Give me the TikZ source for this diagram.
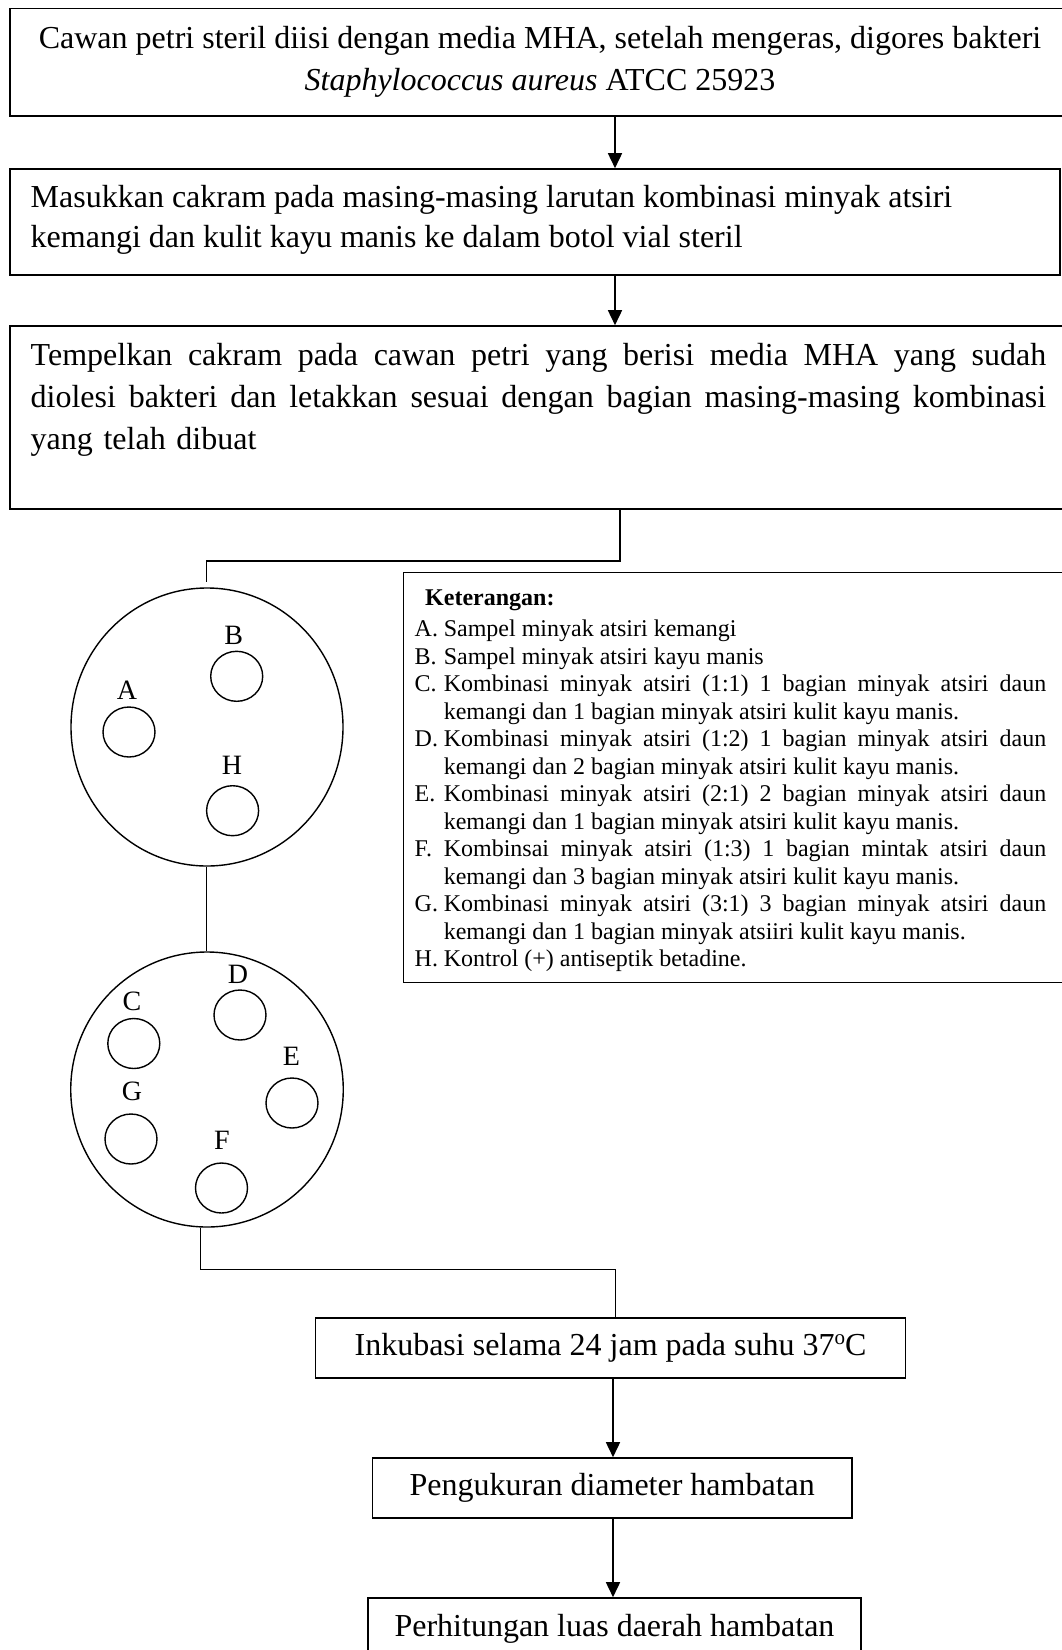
\documentclass[tikz,border=0pt]{standalone}
\usepackage{fontspec}
\setmainfont{Liberation Serif}
\usetikzlibrary{arrows.meta,shapes.geometric}
\newcommand\jline[2]{\makebox[#1][s]{\spaceskip=0pt\xspaceskip=0pt #2}}
\newcommand\legA[2]{\makebox[29.1pt][l]{#1}#2}
\newcommand\legB[3]{\makebox[29.1pt][l]{#1}\jline{602.4pt}{#2}\\\hspace*{29.1pt}#3}
\begin{document}
\begin{tikzpicture}[x=1pt,y=-1pt,
  box/.style={draw, line width=1.6pt, rectangle, inner sep=0pt},
  conn/.style={line width=1.6pt},
  arr/.style={conn, -{Triangle[length=15pt,width=14pt]}},
  plate/.style={draw, ellipse, line width=1.4pt, inner sep=0pt},
  disk/.style={draw, ellipse, line width=1.4pt, minimum width=52pt, minimum height=50pt, inner sep=0pt},
  lab/.style={font=\fontsize{28}{30}\selectfont, inner sep=0pt},
  main/.style={font=\fontsize{32}{42}\selectfont, inner sep=0pt},
  leg/.style={font=\fontsize{24}{27.5}\selectfont, inner sep=0pt}]
\clip (0,0) rectangle (1062,1650);

% top boxes
\node[box, main, align=center, minimum width=1060pt, minimum height=107.5pt] (b1) at (540,62.25)
  {Cawan petri steril diisi dengan media MHA, setelah mengeras, digores bakteri\\\textit{Staphylococcus aureus} ATCC 25923};
\node[box, minimum width=1050pt, minimum height=106pt] (b2) at (535,222) {};
\node[main, font=\fontsize{32}{40}\selectfont, anchor=west, align=left] (t2) at (30.5,220)
  {Masukkan cakram pada masing-masing larutan kombinasi minyak atsiri\\kemangi dan kulit kayu manis ke dalam botol vial steril};
\node[box, minimum width=1060pt, minimum height=183pt] (b3) at (540,417.5) {};
\node[main, anchor=west, align=left, text width=1015.5pt] (t3) at (30.5,400)
  {\jline{1015.5pt}{Tempelkan cakram pada cawan petri yang berisi media MHA yang sudah}\\
   \jline{1015.5pt}{diolesi bakteri dan letakkan sesuai dengan bagian masing-masing kombinasi}\\
   yang telah dibuat};

\coordinate (ax) at (615,0);
\draw[arr] (b1.south -| ax) -- (b2.north -| ax);
\draw[arr] (b2.south -| ax) -- (b3.north -| ax);

% petri dishes
\node[plate, minimum width=272pt, minimum height=278pt] (e1) at (207,727) {};
\node[plate, minimum width=272.5pt, minimum height=275pt] (e2) at (207,1089.5) {};

\coordinate (k1) at (206.5,561);
\coordinate (k1s) at (620,0);
\draw[conn] (b3.south -| k1s) |- (k1) -- ([yshift=5.5pt]e1.north -| k1);
\draw[conn] ([xshift=-0.5pt]e1.south) -- ([xshift=-0.5pt]e2.north);

% disks plate 1
\node[disk] (dA) at (129,732) {};
\node[disk] (dB) at (236.7,676.3) {};
\node[disk] (dH) at (232.6,810.7) {};
\node[lab] (lA) at (127,690) {A};
\node[lab] (lB) at (233.7,635) {B};
\node[lab] (lH) at (232,765.7) {H};

% disks plate 2
\node[disk] (dC) at (133.8,1043.5) {};
\node[disk] (dD) at (240,1015) {};
\node[disk] (dE) at (292,1103) {};
\node[disk] (dG) at (131,1139) {};
\node[disk] (dF) at (221.5,1188) {};
\node[lab] (lC) at (132,1001) {C};
\node[lab] (lD) at (238,974) {D};
\node[lab] (lE) at (291.5,1056) {E};
\node[lab] (lG) at (132,1091) {G};
\node[lab] (lF) at (222,1140) {F};

% legend
\node[box, minimum width=666.5pt, minimum height=410pt] (lg) at (736.75,777.5) {};
\node[leg, font=\fontsize{24}{27.5}\selectfont\bfseries, anchor=west] (lgh) at (425,600) {Keterangan:};
\node[leg, anchor=west, align=left, text width=631.5pt] (lgt) at (414.5,795.9)
  {\spaceskip=0pt\xspaceskip=0pt
   \legA{A.}{Sampel minyak atsiri kemangi}\\
   \legA{B.}{Sampel minyak atsiri kayu manis}\\
   \legB{C.}{Kombinasi minyak atsiri (1:1) 1 bagian minyak atsiri daun}{kemangi dan 1 bagian minyak atsiri kulit kayu manis.}\\
   \legB{D.}{Kombinasi minyak atsiri (1:2) 1 bagian minyak atsiri daun}{kemangi dan 2 bagian minyak atsiri kulit kayu manis.}\\
   \legB{E.}{Kombinasi minyak atsiri (2:1) 2 bagian minyak atsiri daun}{kemangi dan 1 bagian minyak atsiri kulit kayu manis.}\\
   \legB{F.}{Kombinsai minyak atsiri (1:3) 1 bagian mintak atsiri daun}{kemangi dan 3 bagian minyak atsiri kulit kayu manis.}\\
   \legB{G.}{Kombinasi minyak atsiri (3:1) 3 bagian minyak atsiri daun}{kemangi dan 1 bagian minyak atsiiri kulit kayu manis.}\\
   \legA{H.}{Kontrol (+) antiseptik betadine.}};

% bottom boxes
\node[box, main, minimum width=590pt, minimum height=59.7pt] (b4) at (610.5,1347.9)
  {Inkubasi selama 24 jam pada suhu 37\raisebox{11pt}{\fontsize{21}{21}\selectfont o}C};
\node[box, main, minimum width=479.5pt, minimum height=60pt] (b5) at (612.25,1488) {Pengukuran diameter hambatan};
\node[box, main, minimum width=493pt, minimum height=62pt] (b6) at (614.5,1629) {Perhitungan luas daerah hambatan};

\coordinate (k2) at (615.5,1269.5);
\draw[conn] ([xshift=-6.5pt]e2.south) |- (k2) -- (b4.north -| k2);
\coordinate (ax2) at (613,0);
\draw[arr] (b4.south -| ax2) -- (b5.north -| ax2);
\draw[arr] (b5.south -| ax2) -- (b6.north -| ax2);
\end{tikzpicture}
\end{document}
